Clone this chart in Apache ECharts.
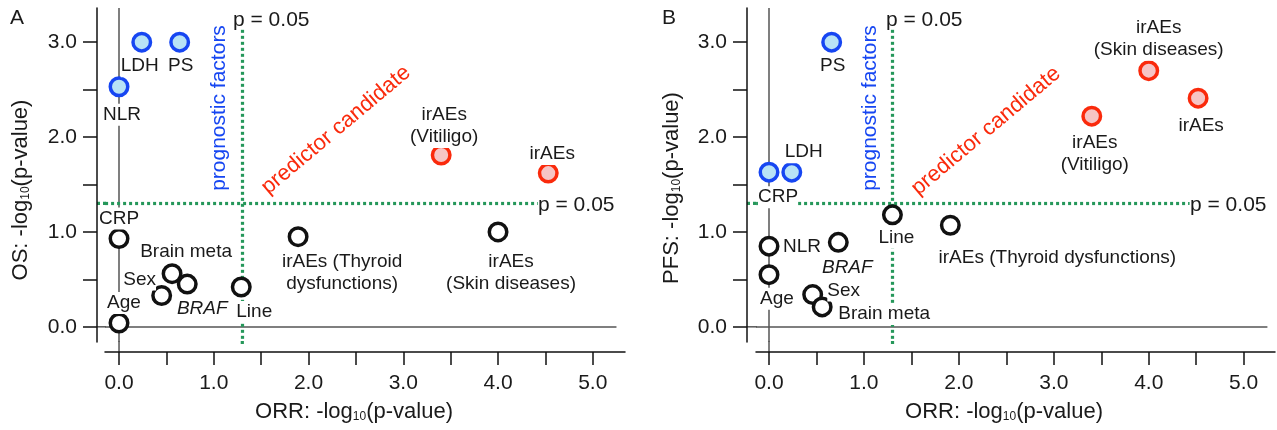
<!DOCTYPE html>
<html>
<head>
<meta charset="utf-8">
<script src="https://cdn.jsdelivr.net/npm/echarts@6/dist/echarts.min.js"></script>
<style>
html, body { margin: 0; padding: 0; background: #fff; }
#chart { width: 1277px; height: 430px; }
</style>
</head>
<body>
<div id="chart"></div>
<script>
// ---- panel A: OS vs ORR, -log10(p) ----
const osProgNames = ['LDH', 'PS', 'NLR'];
const osProgX = [0.24, 0.64, 0.0];
const osProgY = [3.0, 3.0, 2.53];
const osPredNames = ['irAEs (Vitiligo)', 'irAEs'];
const osPredX = [3.40, 4.53];
const osPredY = [1.81, 1.62];
const osOtherNames = ['CRP', 'Brain meta', 'BRAF', 'Sex', 'Age', 'Line', 'irAEs (Thyroid dysfunctions)', 'irAEs (Skin diseases)'];
const osOtherX = [0.0, 0.56, 0.72, 0.45, 0.0, 1.29, 1.89, 4.0];
const osOtherY = [0.93, 0.56, 0.45, 0.33, 0.04, 0.42, 0.95, 1.0];

// ---- panel B: PFS vs ORR ----
const pfsProgNames = ['PS', 'CRP', 'LDH'];
const pfsProgX = [0.66, 0.0, 0.24];
const pfsProgY = [3.0, 1.63, 1.63];
const pfsPredNames = ['irAEs (Skin diseases)', 'irAEs', 'irAEs (Vitiligo)'];
const pfsPredX = [4.0, 4.52, 3.40];
const pfsPredY = [2.70, 2.41, 2.22];
const pfsOtherNames = ['Line', 'irAEs (Thyroid dysfunctions)', 'NLR', 'BRAF', 'Age', 'Sex', 'Brain meta'];
const pfsOtherX = [1.30, 1.91, 0.0, 0.73, 0.0, 0.46, 0.56];
const pfsOtherY = [1.18, 1.07, 0.85, 0.89, 0.55, 0.34, 0.21];

// ticks
const xTicks = [0, 0.5, 1, 1.5, 2, 2.5, 3, 3.5, 4, 4.5, 5];
const xLabels = [0, 1, 2, 3, 4, 5];
const yTicks = [0, 0.5, 1, 1.5, 2, 2.5, 3];
const yLabels = [0, 1, 2, 3];

const P05 = -Math.log10(0.05);

const font = "'Liberation Sans', Arial, sans-serif";
const green = '#25975a';

// label text + offset from the point (px)
const labA = {
    'LDH': ['LDH', [-2, 24]],
    'PS': ['PS', [1, 24]],
    'NLR': ['NLR', [3, 28]],
    'irAEs (Vitiligo)': ['irAEs\n(Vitiligo)', [3, -29]],
    'irAEs': ['irAEs', [4, -19]],
    'CRP': ['CRP', [0, -20]],
    'Brain meta': ['Brain meta', [14, -22]],
    'BRAF': ['{i|BRAF}', [15, 25]],
    'Sex': ['Sex', [-22, -16]],
    'Age': ['Age', [5, -20]],
    'Line': ['Line', [13, 25]],
    'irAEs (Thyroid dysfunctions)': ['irAEs (Thyroid\ndysfunctions)', [44, 36]],
    'irAEs (Skin diseases)': ['irAEs\n(Skin diseases)', [13, 41]]
};
const labB = {
    'PS': ['PS', [1, 24]],
    'LDH': ['LDH', [12, -20]],
    'CRP': ['CRP', [9, 25]],
    'irAEs (Skin diseases)': ['irAEs\n(Skin diseases)', [10, -32]],
    'irAEs': ['irAEs', [3, 28]],
    'irAEs (Vitiligo)': ['irAEs\n(Vitiligo)', [3, 38]],
    'Line': ['Line', [4, 23]],
    'irAEs (Thyroid dysfunctions)': ['irAEs (Thyroid dysfunctions)', [107, 32]],
    'NLR': ['NLR', [33, 1]],
    'BRAF': ['{i|BRAF}', [9, 25]],
    'Age': ['Age', [8, 24]],
    'Sex': ['Sex', [31, -4]],
    'Brain meta': ['Brain meta', [62, 7]]
};

const styles = {
    prog: { color: '#b8e3f6', borderColor: '#1646f2' },
    pred: { color: '#f6c5c5', borderColor: '#fa2a0c' },
    other: { color: '#ffffff', borderColor: '#111111' }
};

function pointSeries(grid, names, xs, ys, kind, lab) {
    return {
        type: 'scatter',
        xAxisIndex: grid,
        yAxisIndex: grid,
        z: 3,
        symbol: 'circle',
        symbolSize: 17.5,
        itemStyle: Object.assign({ borderWidth: 3.5, opacity: 1 }, styles[kind]),
        data: names.map((n, i) => ({
            name: n,
            value: [xs[i], ys[i]],
            label: {
                show: true,
                position: 'inside',
                offset: lab[n][1],
                formatter: lab[n][0]
            }
        })),
        label: {
            color: '#1a1a1a',
            fontSize: 19,
            fontFamily: font,
            lineHeight: 22,
            align: 'center',
            verticalAlign: 'middle',
            backgroundColor: '#fff',
            rich: { i: { fontStyle: 'italic', fontSize: 19, fontFamily: font, color: '#1a1a1a' } }
        },
        emphasis: { disabled: true }
    };
}

// zero lines and p = 0.05 guides; ends kept inside the axis range
function refSeries(grid, xMin, hEnd) {
    const gray = { color: '#555', width: 1.5, type: 'solid' };
    const dot = { color: green, width: 3.2, type: [3, 3] };
    return {
        type: 'scatter',
        xAxisIndex: grid,
        yAxisIndex: grid,
        z: 1,
        data: [],
        markLine: {
            z: 1,
            silent: true,
            symbol: ['none', 'none'],
            label: { show: false },
            animation: false,
            data: [
                [{ coord: [0, 3.359], lineStyle: gray }, { coord: [0, -0.159] }],
                [{ coord: [xMin, 0], lineStyle: gray }, { coord: [5.25, 0] }],
                [{ coord: [xMin, P05], lineStyle: dot }, { coord: [hEnd, P05] }],
                [{ coord: [P05, 3.13], lineStyle: dot }, { coord: [P05, -0.159] }]
            ]
        }
    };
}

function xAxis(grid, min, max) {
    return {
        type: 'value', gridIndex: grid, min: min, max: max, offset: 10,
        axisLine: { show: true, onZero: false, lineStyle: { color: '#111', width: 1.5 } },
        axisTick: { show: true, length: 13, customValues: xTicks, lineStyle: { color: '#111', width: 1.5 } },
        axisLabel: { customValues: xLabels, formatter: v => v.toFixed(1), fontSize: 21, color: '#1a1a1a', fontFamily: font, margin: 21 },
        splitLine: { show: false }
    };
}
function yAxis(grid, off) {
    return {
        type: 'value', gridIndex: grid, min: -0.16, max: 3.36, offset: off,
        axisLine: { show: true, onZero: false, lineStyle: { color: '#111', width: 1.5 } },
        axisTick: { show: true, length: 14, customValues: yTicks, lineStyle: { color: '#111', width: 1.5 } },
        axisLabel: { customValues: yLabels, formatter: v => v.toFixed(1), fontSize: 21, color: '#1a1a1a', fontFamily: font, margin: 20 },
        splitLine: { show: false }
    };
}

function txt(x, y, text, size, color, opts) {
    return Object.assign({
        type: 'text', x: x, y: y, silent: true, z: 10,
        style: { text: text, fontSize: size, fontFamily: font, fill: color, align: 'center', verticalAlign: 'middle' }
    }, opts || {});
}
function leftTxt(x, y, text, size) {
    return {
        type: 'text', x: x, y: y, silent: true, z: 10,
        style: { text: text, fontSize: size, fontFamily: font, fill: '#1a1a1a', align: 'left', verticalAlign: 'middle' }
    };
}
function axisTitle(x, y, prefix, rot) {
    return {
        type: 'text', x: x, y: y, rotation: rot, silent: true, z: 10,
        style: {
            text: '{a|' + prefix + ' -log}{s|10}{a|(p-value)}',
            align: 'center', verticalAlign: 'middle',
            rich: {
                a: { fontSize: 22, fontFamily: font, fill: '#1a1a1a' },
                s: { fontSize: 12, fontFamily: font, fill: '#1a1a1a', padding: [9, 0, 0, 0] }
            }
        }
    };
}

const texts = [
    leftTxt(10, 18, 'A', 21),
    leftTxt(662, 18, 'B', 21),
    axisTitle(21, 190, 'OS:', Math.PI / 2),
    axisTitle(672, 188, 'PFS:', Math.PI / 2),
    axisTitle(354, 412, 'ORR:', 0),
    axisTitle(1004, 412, 'ORR:', 0),
    txt(219, 108, 'prognostic factors', 21, '#1646f2', { rotation: Math.PI / 2 }),
    txt(870, 108, 'prognostic factors', 21, '#1646f2', { rotation: Math.PI / 2 }),
    txt(336, 130, 'predictor candidate', 22, '#fa2a0c', { rotation: 40 * Math.PI / 180 }),
    txt(986, 131, 'predictor candidate', 22, '#fa2a0c', { rotation: 40 * Math.PI / 180 }),
    leftTxt(233, 20, 'p = 0.05', 21),
    leftTxt(538, 205, 'p = 0.05', 21),
    leftTxt(886, 20, 'p = 0.05', 21),
    leftTxt(1190, 205, 'p = 0.05', 21)
];

const grids = [
    { left: 105, top: 8, width: 520, height: 334 },
    { left: 756, top: 8, width: 519, height: 334 }
];
const yOffsets = [8, 9];

const chart = echarts.init(document.getElementById('chart'));
chart.setOption({
    animation: false,
    backgroundColor: '#fff',
    grid: grids,
    xAxis: [xAxis(0, -0.148, 5.34), xAxis(1, -0.137, 5.33)],
    yAxis: [yAxis(0, yOffsets[0]), yAxis(1, yOffsets[1])],
    series: [
        refSeries(0, -0.147, 4.42),
        pointSeries(0, osOtherNames, osOtherX, osOtherY, 'other', labA),
        pointSeries(0, osProgNames, osProgX, osProgY, 'prog', labA),
        pointSeries(0, osPredNames, osPredX, osPredY, 'pred', labA),
        refSeries(1, -0.136, 4.43),
        pointSeries(1, pfsOtherNames, pfsOtherX, pfsOtherY, 'other', labB),
        pointSeries(1, pfsProgNames, pfsProgX, pfsProgY, 'prog', labB),
        pointSeries(1, pfsPredNames, pfsPredX, pfsPredY, 'pred', labB)
    ],
    graphic: texts
});

// short pieces joining the guide lines to the detached axes
const joins = [];
grids.forEach((g, i) => {
    const axisX = g.left - yOffsets[i];
    const bottom = g.top + g.height;
    const zero = chart.convertToPixel({ gridIndex: i }, [0, 0]);
    const thr = chart.convertToPixel({ gridIndex: i }, [P05, P05]);
    const gray = { stroke: '#555', lineWidth: 1.5 };
    const dot = { stroke: green, lineWidth: 3.2, lineDash: [3, 3] };
    joins.push(
        { type: 'line', silent: true, z: 0, shape: { x1: axisX, y1: zero[1], x2: g.left + 1, y2: zero[1] }, style: gray },
        { type: 'line', silent: true, z: 0, shape: { x1: axisX, y1: thr[1], x2: g.left + 1, y2: thr[1] }, style: dot },
        { type: 'line', silent: true, z: 0, shape: { x1: zero[0], y1: bottom - 1, x2: zero[0], y2: bottom + 10 }, style: gray },
        { type: 'line', silent: true, z: 0, shape: { x1: thr[0], y1: bottom - 1, x2: thr[0], y2: bottom + 5 }, style: dot }
    );
});
chart.setOption({ graphic: texts.concat(joins) });
</script>
</body>
</html>
